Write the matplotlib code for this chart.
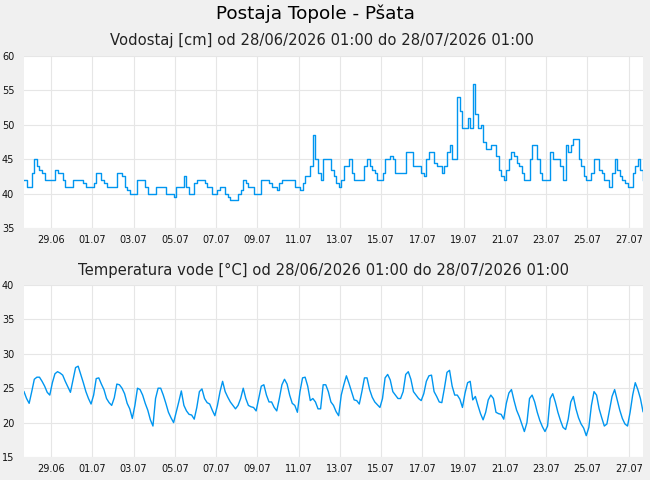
import numpy as np
import matplotlib
matplotlib.use("Agg")
import matplotlib.pyplot as plt

# 3-urne meritve od 28/06/2026 01:00 do 28/07/2026 01:00
korak_ur = 3

vodostaj = [
    42, 41, 41, 43, 45, 44, 43.5, 43, 42, 42,
    42, 42, 43.5, 43, 43, 42, 41, 41, 41, 42,
    42, 42, 42, 41.5, 41, 41, 41, 41.5, 43, 43,
    42, 41.5, 41, 41, 41, 41, 43, 43, 42.5, 41,
    40.5, 40, 40, 40, 42, 42, 42, 41, 40, 40,
    40, 41, 41, 41, 41, 40, 40, 40, 39.5, 41,
    41, 41, 42.5, 41, 40, 40, 41.5, 42, 42, 42,
    41.5, 41, 41, 40, 40, 40.5, 41, 41, 40, 39.5,
    39, 39, 39, 40, 40.5, 42, 41.5, 41, 41, 40,
    40, 40, 42, 42, 42, 41.5, 41, 41, 40.5, 41.5,
    42, 42, 42, 42, 42, 41, 41, 40.5, 41.5, 42.5,
    42.5, 44, 48.5, 45, 43, 42, 45, 45, 45, 43.5,
    42.5, 41.5, 41, 42, 44, 44, 45, 43, 42, 42,
    42, 42, 44, 45, 44, 43.5, 43, 42, 42, 43,
    45, 45, 45.5, 45, 43, 43, 43, 43, 46, 46,
    46, 44, 44, 44, 43, 42.5, 45, 46, 46, 44.5,
    44, 44, 43, 44, 46, 47, 45, 45, 54, 52,
    49.5, 49.5, 51, 49.5, 56, 51.5, 49.5, 50, 47.5, 46.5,
    46.5, 47, 47, 45.5, 43.5, 42.5, 42, 43.5, 45, 46,
    45.5, 44.5, 44, 43, 42, 42, 45, 47, 47, 45,
    43, 42, 42, 42, 46, 45, 45, 45, 44, 42,
    47, 46, 47, 48, 48, 45, 44, 42.5, 42, 42,
    43, 45, 45, 43.5, 43, 42, 42, 41, 43, 45,
    43.5, 42.5, 42, 41.5, 41, 41, 43, 44, 45, 43.5, 42,
]

temperatura = [
    24.5, 23.5, 22.8, 24.5, 26.3, 26.6, 26.6, 26, 25.3, 24.4,
    24, 25.8, 27.1, 27.4, 27.2, 26.9, 26, 25.2, 24.4, 26.2,
    28, 28.2, 27, 25.8, 24.5, 23.5, 22.7, 24, 26.4, 26.5,
    25.6, 24.8, 23.5, 22.9, 22.5, 23.6, 25.6, 25.5, 25, 24.2,
    22.8, 22, 20.6, 22.5, 25, 24.8, 24, 22.8, 21.8, 20.4,
    19.5, 23.5, 25, 25, 24, 22.8, 21.5, 20.7, 20, 21.5,
    23, 24.6, 22.5, 21.7, 21.2, 21.1, 20.5, 22.2, 24.5, 24.9,
    23.5, 22.9, 22.7, 21.8, 21, 22.5, 24.5, 26, 24.5, 23.7,
    23, 22.5, 22, 22.5, 23.5, 25, 23.5, 22.5, 22.3, 22.2,
    21.7, 23.5, 25.3, 25.5, 24, 23, 23, 22.2, 21.7, 23.5,
    25.5, 26.3, 25.6, 24, 22.8, 22.5, 21.5, 24.5, 26.5, 26.6,
    25.3, 23.2, 23.5, 23, 22, 22, 25.5, 25.5, 24.5, 23,
    22.5, 21.6, 21, 24, 25.5, 26.8, 25.7, 24.5, 23.3, 23.2,
    22.7, 24.5, 26.5, 26.5, 24.8, 23.7, 23, 22.6, 22.2, 23.5,
    26.5, 27, 26.2, 24.5, 24, 23.5, 23.5, 24.5, 27, 27.4,
    26.3, 24.5, 24, 23.5, 23.2, 24.2, 26, 26.8, 26.9, 24.5,
    23.8, 23, 22.9, 25, 27.3, 27.6, 25.3, 24, 24, 23.4,
    22.2, 24.3, 25.8, 26, 23.3, 23.8, 22.5, 21.3, 20.4, 21.5,
    23.3, 24, 23.5, 21.5, 21.3, 21.2, 20.5, 22.8, 24.3, 24.8,
    23.2, 21.8, 20.9, 19.8, 18.7, 20, 23.5, 24, 23, 21.5,
    20.3, 19.4, 18.7, 19.5, 23.5, 24.2, 23, 21.5, 20.3, 19.3,
    19, 20.5, 23, 23.8, 22, 20.7, 19.8, 19.2, 18.1, 19.3,
    22.5, 24.5, 24, 22, 20.7, 19.5, 19.8, 21.8, 23.8, 24.8,
    23.3, 21.8, 20.6, 19.8, 19.5, 21.5, 24, 25.8, 24.8, 23.5, 21.6,
]

dnevi = ["29.06", "01.07", "03.07", "05.07", "07.07", "09.07", "11.07", "13.07",
         "15.07", "17.07", "19.07", "21.07", "23.07", "25.07", "27.07"]

t = np.arange(len(vodostaj)) * korak_ur / 24.0
prvi_tick = 1.31
ticki = prvi_tick + 2 * np.arange(len(dnevi))

barva = "#0096f0"
ozadje = "#f0f0f0"

fig = plt.figure(figsize=(6.5, 4.8), dpi=100, facecolor=ozadje)
ax1 = fig.add_axes([24 / 650, 1 - 228 / 480, 619 / 650, 172 / 480])
ax2 = fig.add_axes([24 / 650, 1 - 457 / 480, 619 / 650, 172 / 480])

ax1.plot(t, vodostaj, color=barva, lw=1.0, drawstyle="steps-post")
ax2.plot(t, temperatura, color=barva, lw=1.0)

for ax, (lo, hi) in ((ax1, (35, 60)), (ax2, (15, 40))):
    ax.set_facecolor("white")
    ax.set_xlim(0, 30)
    ax.set_ylim(lo, hi)
    ax.set_yticks(np.arange(lo, hi + 1, 5))
    ax.set_xticks(ticki)
    ax.set_xticklabels(dnevi)
    ax.grid(True, color="#e6e6e6", lw=0.8)
    ax.set_axisbelow(True)
    for s in ax.spines.values():
        s.set_visible(False)
    ax.tick_params(length=0, labelsize=7, colors="#111111")
    ax.tick_params(axis="x", pad=5)
    ax.tick_params(axis="y", pad=7)

fig.text(0.485, 1 - 14 / 480, "Postaja Topole - Pšata", ha="center", va="center",
         fontsize=13.2, color="black")
fig.text(0.495, 1 - 40 / 480, "Vodostaj [cm] od 28/06/2026 01:00 do 28/07/2026 01:00",
         ha="center", va="center", fontsize=10.6, color="#222222")
fig.text(0.498, 1 - 270 / 480, "Temperatura vode [°C] od 28/06/2026 01:00 do 28/07/2026 01:00",
         ha="center", va="center", fontsize=10.6, color="#222222")

fig.savefig("out.png", dpi=100, facecolor=ozadje)
